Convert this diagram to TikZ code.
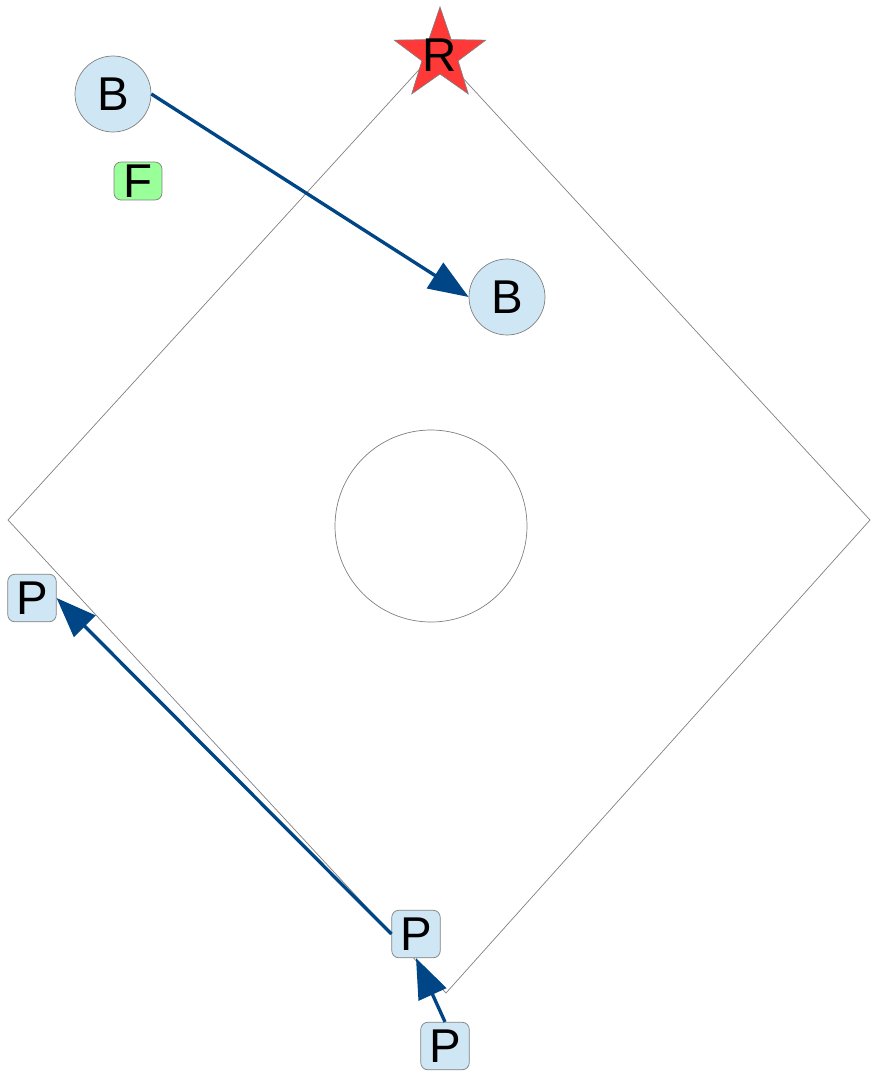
\documentclass[tikz,border=0pt]{standalone}
\usepackage{fontspec}
\setmainfont{Liberation Sans}
\usepackage{tikz}
\usetikzlibrary{calc,arrows.meta}

\definecolor{playerblue}{HTML}{CFE7F5}
\definecolor{fieldgreen}{HTML}{99FF99}
\definecolor{runnerred}{HTML}{FF3838}
\definecolor{movecol}{HTML}{004586}

\begin{document}
\begin{tikzpicture}[>={Triangle[length=0.8cm,width=0.6cm]},x=0.02cm,y=-0.02cm,
  every node/.style={font=\fontsize{27}{31}\selectfont,inner sep=0pt},
  ball/.style={circle,draw=gray,fill=playerblue,minimum size=1.52cm},
  pawn/.style={rectangle,rounded corners=4pt,draw=gray,fill=playerblue,minimum width=0.97cm,minimum height=0.95cm},
  flag/.style={rectangle,rounded corners=4pt,draw=gray,fill=fieldgreen,minimum width=0.96cm,minimum height=0.76cm},
  move/.style={->,movecol,line width=1.9pt}]
  \useasboundingbox (0,0) rectangle (870,1072);
  % field: diamond and centre circle
  \draw[gray] (437,50) -- (870,520) -- (446,993) -- (8,520) -- cycle;
  \draw[gray] (431,526) circle (96);
  % star behind the R (outer and inner radius)
  \pgfmathsetmacro{\ro}{48}
  \pgfmathsetmacro{\ri}{19}
  \draw[gray,fill=runnerred] (440,55-\ro)
    \foreach \k in {1,...,9} {
      \ifodd\k -- ({440+\ri*cos(90+36*\k)},{55-\ri*sin(90+36*\k)})
      \else -- ({440+\ro*cos(90+36*\k)},{55-\ro*sin(90+36*\k)}) \fi
    } -- cycle;
  \node (R) at (440,55) {R};
  % players
  \node[ball] (B1) at (113,94) {B};
  \node[ball] (B2) at (507,297) {B};
  \node[flag] (F) at (138,181) {F};
  \node[pawn] (P1) at (32,598) {P};
  \node[pawn] (P2) at (416,934) {P};
  \node[pawn] (P3) at (445,1046) {P};
  % moves
  \draw[move] (B1.east) -- (B2.west);
  \draw[move] (P2.west) -- (P1.east);
  \draw[move] (P3.north) -- (P2.south);
\end{tikzpicture}
\end{document}
